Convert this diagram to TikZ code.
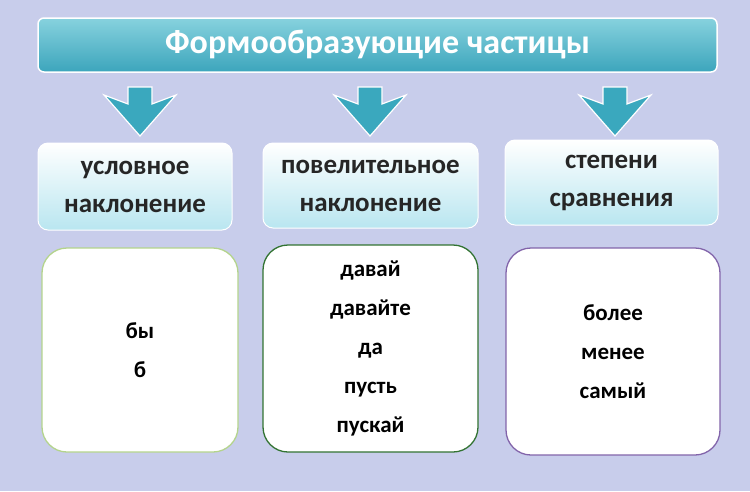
\documentclass[tikz,border=0pt]{standalone}
\usepackage{fontspec}
\setmainfont{Carlito}
\definecolor{bg}{RGB}{200,205,235}
\definecolor{hdrb}{RGB}{185,230,240}
\definecolor{ttop}{RGB}{135,210,222}
\definecolor{tbot}{RGB}{60,165,188}
\definecolor{arrc}{RGB}{58,168,190}
\definecolor{g1}{RGB}{180,212,140}
\definecolor{g2}{RGB}{50,115,50}
\definecolor{p3}{RGB}{130,100,170}
\begin{document}
\begin{tikzpicture}[x=1pt,y=-1pt,
 hdr/.style={rounded corners=10pt,draw=white,line width=1pt,top color=white,bottom color=hdrb,font=\bfseries\fontsize{27}{38}\selectfont,text=black!85,align=center},
 cnt/.style={rounded corners=25pt,fill=white,line width=1.3pt,font=\bfseries\fontsize{23}{39}\selectfont,align=center},
 arr/.style={fill=arrc,draw=white,line width=1.2pt,line join=miter}]
\fill[bg] (0,0) rectangle (750,491);
\node[rounded corners=6pt,draw=white,line width=1.5pt,top color=ttop,bottom color=tbot,minimum width=679pt,minimum height=54pt,text=white,font=\bfseries\fontsize{34}{36}\selectfont] (title) at (377.5,45) {Формообразующие частицы};
\foreach \x in {140,370,615}{
 \draw[arr] (\x-12,87)--(\x+12,87)--(\x+12,104)--(\x+36,95)--(\x,136)--(\x-36,95)--(\x-12,104)--cycle;}
\node[hdr,minimum width=194pt,minimum height=87pt] (h1) at (135,186.5) {условное\\наклонение};
\node[hdr,minimum width=215pt,minimum height=85pt] (h2) at (370.5,185.5) {повелительное\\наклонение};
\node[hdr,minimum width=213pt,minimum height=85pt] (h3) at (611.5,182.5) {степени\\сравнения};
\node[cnt,draw=g1,minimum width=196pt,minimum height=204pt] (c1) at (140,350) {бы\\б};
\node[cnt,draw=g2,minimum width=215pt,minimum height=207pt] (c2) at (370.5,348.5) {давай\\давайте\\да\\пусть\\пускай};
\node[cnt,draw=p3,minimum width=214pt,minimum height=207pt] (c3) at (613,351.5) {более\\менее\\самый};
\end{tikzpicture}
\end{document}
